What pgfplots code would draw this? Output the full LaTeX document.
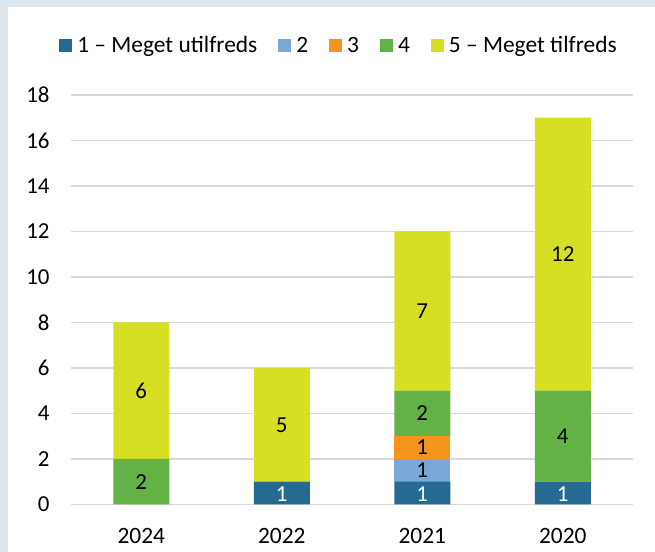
\documentclass[border=0pt]{standalone}
\usepackage{fontspec}
\setmainfont{Carlito}
\usepackage{pgfplots}
\pgfplotsset{compat=1.18}

\definecolor{frame}{RGB}{221,230,237}
\definecolor{gridc}{RGB}{217,217,217}
\definecolor{cone}{RGB}{38,105,145}
\definecolor{ctwo}{RGB}{120,169,214}
\definecolor{cthree}{RGB}{247,148,29}
\definecolor{cfour}{RGB}{98,178,70}
\definecolor{cfive}{RGB}{214,223,34}

\pgfplotsset{
  base/.style={
    at={(71bp,47.5bp)}, anchor=south west,
    scale only axis, width=562bp, height=409.5bp,
    xmin=-0.5, xmax=3.5, ymin=0, ymax=18,
  },
}

\begin{document}
\begin{tikzpicture}
\useasboundingbox (0,0) rectangle (655bp,552bp);
\fill[frame] (0,0) rectangle (655bp,552bp);
\fill[white] (8bp,0) rectangle (655bp,545bp);

\begin{axis}[base,
    ybar stacked, bar width=56bp,
    axis x line=none, axis y line*=left, y axis line style={draw=none},
    ytick={0,2,...,18}, major tick length=0pt,
    ymajorgrids, grid style={gridc, line width=1.4bp},
    yticklabel style={font=\fontsize{23}{25}\selectfont, xshift=-18bp},
    /pgf/number format/assume math mode=true,
    legend columns=5,
    legend style={at={(0.476,1.121)}, anchor=center, draw=none, fill=none,
        font=\fontsize{23.5}{25}\selectfont, nodes={inner sep=1bp},
        /tikz/every odd column/.append style={column sep=4bp},
        /tikz/every even column/.append style={column sep=20bp}},
    legend image code/.code={\fill[#1] (0bp,-6.5bp) rectangle (13bp,6.5bp);},
]
\addplot[fill=cone, draw=none] coordinates {(0,0) (1,1) (2,1) (3,1)};
\addlegendentry{1 – Meget utilfreds}
\addplot[fill=ctwo, draw=none] coordinates {(0,0) (1,0) (2,1) (3,0)};
\addlegendentry{2}
\addplot[fill=cthree, draw=none] coordinates {(0,0) (1,0) (2,1) (3,0)};
\addlegendentry{3}
\addplot[fill=cfour, draw=none] coordinates {(0,2) (1,0) (2,2) (3,4)};
\addlegendentry{4}
\addplot[fill=cfive, draw=none] coordinates {(0,6) (1,5) (2,7) (3,12)};
\addlegendentry{5 – Meget tilfreds}
\end{axis}

% segment labels
\begin{axis}[base, axis lines=none, xtick=\empty, ytick=\empty,
    point meta=explicit symbolic,
    nodes near coords,
    every node near coord/.append style={anchor=center, font=\fontsize{23}{25}\selectfont},
]
\addplot[only marks, mark=none, nodes near coords style={black}] coordinates {
  (0,5)[6] (0,1)[2] (1,3.5)[5] (2,8.5)[7] (2,4)[2] (2,2.5)[1] (2,1.5)[1]
  (3,11)[12] (3,3)[4]
};
\addplot[only marks, mark=none, nodes near coords style={white}] coordinates {
  (1,0.45)[1] (2,0.45)[1] (3,0.45)[1]
};
\end{axis}

% category labels
\begin{axis}[base, axis x line*=bottom, axis y line=none, x axis line style={draw=none},
    xtick={0,1,2,3}, xticklabels={2024,2022,2021,2020}, major tick length=0pt,
    xticklabel style={font=\fontsize{23.5}{25}\selectfont, yshift=-20bp},
]
\addplot[draw=none] coordinates {(0,0)};
\end{axis}
\end{tikzpicture}
\end{document}
